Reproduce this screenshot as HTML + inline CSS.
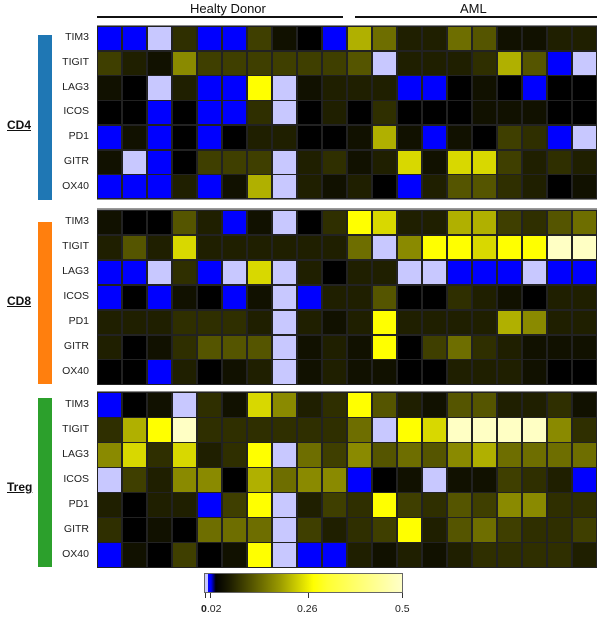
<!DOCTYPE html>
<html><head><meta charset="utf-8"><style>
body{margin:0;background:#fff;width:600px;height:622px;position:relative;overflow:hidden;font-family:"Liberation Sans",sans-serif;}
.a{position:absolute}
.hdr{font-size:13px;color:#111;top:1px}
.ln{height:2px;background:#111}
.rl{font-size:10.5px;color:#222;width:60px;text-align:right;left:29px}
.grp{font-size:12px;font-weight:bold;text-decoration:underline;color:#111;left:7px}
.panel{position:absolute;left:97px;width:500px;border:1px solid #888;box-sizing:border-box}
.c{position:absolute;box-sizing:border-box;border:1px solid #222}
.tk{position:absolute;width:1px;height:5px;background:#333;top:593px}
.tl{position:absolute;top:603px;font-size:10.5px;color:#222}
</style></head><body>
<div class="a hdr" style="left:190px">Healty Donor</div>
<div class="a hdr" style="left:460px">AML</div>
<div class="a ln" style="left:97px;width:246px;top:16px"></div>
<div class="a ln" style="left:355px;width:242px;top:16px"></div>
<div class="a" style="left:97px;width:500px;top:208px;height:1px;background:#999"></div>

<div class="a" style="left:38px;width:14px;top:35px;height:165px;background:#1f77b4"></div>
<div class="a" style="left:38px;width:14px;top:222px;height:162px;background:#ff7f0e"></div>
<div class="a" style="left:38px;width:14px;top:398px;height:169px;background:#2ca02c"></div>
<div class="a grp" style="top:118px">CD4</div>
<div class="a grp" style="top:294px">CD8</div>
<div class="a grp" style="top:480px">Treg</div>

<div id="labels"></div>
<div id="cells"></div>

<div class="a" style="left:204px;top:573px;width:199px;height:20px;border:1px solid #666;box-sizing:border-box;background:linear-gradient(to right,#c8c8ff 0,#c8c8ff 1.5%,#0000ff 1.6%,#0000ff 3%,#000 5.5%,#1a1a00 12%,#9a9a00 38%,#ffff00 55%,#ffff30 62%,#ffffc8 100%)"></div>
<div class="tk" style="left:205px"></div><div class="tk" style="left:210px"></div><div class="tk" style="left:308px"></div><div class="tk" style="left:402px"></div>
<div class="tl" style="left:201px"><b>0</b>.02</div>
<div class="tl" style="left:297px">0.26</div>
<div class="tl" style="left:395px">0.5</div>

<script>
var cols={'0':'#000000','1':'#111100','2':'#1f1f00','3':'#2f2f00','4':'#3f3f00','5':'#555500','6':'#6e6e00','7':'#8a8a00','8':'#b0b000','9':'#d8d800','Y':'#ffff00','W':'#ffffc4','B':'#0000ff','L':'#c8c8ff'};
var P=[
{top:26,h:24.7,rows:[
"BBL3BB410B8622651122",
"42174444445L222385BL",
"10L2BBYL1222BB010B00",
"00B0BB3L0203000111000",
"B1B0B02200181B1043BL",
"1LB0444L23129199423 2",
"BBB2B18L2120B2553201"]},
{top:210,h:24.9,rows:[
"1005 2B1L03Y92288435 6",
"25292222226L7YY9YYWW",
"BBL3BL9L2022LLBBBLBB",
"B0B10B1LB2250032 1022",
"2223332L212Y22228722",
"20135 55L121Y04632 11",
"00B2012L121100222100"]},
{top:392,h:25,rows:[
"B01L3197 23Y52155223 1",
"38YW3333336LY9WWWW73",
"7939 23YL64756578666 6",
"L42770867 7B01L114 32B",
"2022B4YL243Y43547733",
"3010666L423 4Y256433 4",
"B1040 1YLBB2121233332"]}];
var names=["TIM3","TIGIT","LAG3","ICOS","PD1","GITR","OX40"];
var out="",lab="";
P.forEach(function(p){
 lab+='<div class="panel" style="top:'+(p.top-1)+'px;height:'+(p.h*7+2)+'px"></div>';
 p.rows.forEach(function(r,i){
  r=r.replace(/ /g,"");
  var y=p.top+i*p.h;
  lab+='<div class="a rl" style="top:'+(y+p.h/2-7)+'px">'+names[i]+'</div>';
  for(var j=0;j<20;j++){var ch=r[j]||'1';
   out+='<div class="c" style="left:'+(97+j*25)+'px;top:'+y+'px;width:25px;height:'+(p.h+0.5)+'px;background:'+cols[ch]+'"></div>';}
 });
});
document.getElementById("cells").innerHTML=out;
document.getElementById("labels").innerHTML=lab;
</script>
</body></html>
